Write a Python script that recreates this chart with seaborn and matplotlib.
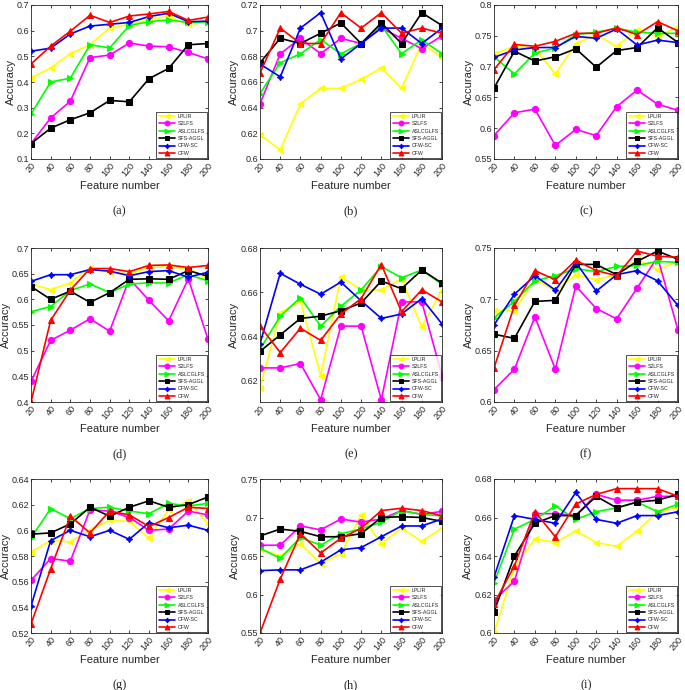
import numpy as np
import pandas as pd
import matplotlib
matplotlib.use("Agg")
import matplotlib.pyplot as plt
import seaborn as sns

# %%
# Data
feature_number = [20, 40, 60, 80, 100, 120, 140, 160, 180, 200]
methods = ["LPLIR", "S2LFS", "ASLCGLFS", "SFS-AGGL", "CFW-SC", "CFW"]
colors = ["#ffff00", "#ff00ff", "#00ff00", "#000000", "#0000ff", "#ff0000"]
markers = ["<", "o", ">", "s", (4, 1, 0), "^"]
panel_labels = ["(a)", "(b)", "(c)", "(d)", "(e)", "(f)", "(g)", "(h)", "(i)"]

acc_a = [
    [0.415, 0.455, 0.51, 0.545, 0.61, 0.625, 0.645, 0.655, 0.625, 0.632],
    [0.16, 0.26, 0.325, 0.495, 0.505, 0.552, 0.54, 0.537, 0.515, 0.49],
    [0.275, 0.40, 0.415, 0.545, 0.533, 0.62, 0.635, 0.642, 0.632, 0.635],
    [0.16, 0.22, 0.253, 0.28, 0.328, 0.323, 0.413, 0.453, 0.545, 0.55],
    [0.52, 0.532, 0.587, 0.618, 0.625, 0.632, 0.655, 0.668, 0.635, 0.637],
    [0.47, 0.54, 0.598, 0.66, 0.632, 0.657, 0.665, 0.675, 0.64, 0.653],
]
acc_b = [
    [0.619, 0.607, 0.643, 0.655, 0.655, 0.662, 0.671, 0.655, 0.69, 0.679],
    [0.643, 0.682, 0.694, 0.682, 0.694, 0.69, 0.702, 0.694, 0.686, 0.696],
    [0.651, 0.675, 0.682, 0.693, 0.682, 0.69, 0.704, 0.682, 0.693, 0.682],
    [0.675, 0.694, 0.69, 0.698, 0.706, 0.69, 0.706, 0.69, 0.714, 0.704],
    [0.674, 0.664, 0.702, 0.714, 0.678, 0.69, 0.702, 0.702, 0.69, 0.702],
    [0.667, 0.702, 0.69, 0.69, 0.714, 0.702, 0.714, 0.698, 0.702, 0.698],
]
acc_c = [
    [0.72, 0.733, 0.73, 0.688, 0.737, 0.752, 0.733, 0.76, 0.748, 0.765],
    [0.588, 0.625, 0.631, 0.572, 0.598, 0.588, 0.635, 0.662, 0.639, 0.629],
    [0.716, 0.688, 0.722, 0.73, 0.752, 0.756, 0.762, 0.756, 0.754, 0.754],
    [0.665, 0.725, 0.709, 0.716, 0.729, 0.699, 0.726, 0.731, 0.763, 0.739],
    [0.715, 0.727, 0.731, 0.731, 0.749, 0.746, 0.761, 0.735, 0.743, 0.739],
    [0.695, 0.736, 0.733, 0.741, 0.754, 0.754, 0.763, 0.752, 0.773, 0.758],
]
acc_d = [
    [0.63, 0.619, 0.632, 0.662, 0.652, 0.65, 0.662, 0.663, 0.66, 0.64],
    [0.44, 0.52, 0.54, 0.562, 0.538, 0.64, 0.598, 0.558, 0.64, 0.522],
    [0.576, 0.586, 0.617, 0.63, 0.613, 0.63, 0.632, 0.632, 0.648, 0.636],
    [0.625, 0.6, 0.616, 0.594, 0.613, 0.639, 0.64, 0.639, 0.656, 0.645],
    [0.635, 0.648, 0.648, 0.658, 0.655, 0.646, 0.654, 0.656, 0.643, 0.653],
    [0.40, 0.559, 0.618, 0.66, 0.66, 0.654, 0.666, 0.667, 0.662, 0.666],
]
acc_e = [
    [0.6165, 0.6505, 0.656, 0.622, 0.667, 0.661, 0.661, 0.666, 0.644, 0.661],
    [0.6255, 0.6255, 0.6275, 0.611, 0.6445, 0.6445, 0.611, 0.6555, 0.6555, 0.622],
    [0.634, 0.649, 0.6575, 0.6445, 0.6535, 0.661, 0.6715, 0.6665, 0.67, 0.6635],
    [0.633, 0.6405, 0.648, 0.649, 0.6515, 0.655, 0.665, 0.6615, 0.67, 0.664],
    [0.6365, 0.6685, 0.6635, 0.659, 0.6645, 0.656, 0.648, 0.65, 0.657, 0.6455],
    [0.6445, 0.6325, 0.6435, 0.638, 0.650, 0.657, 0.6725, 0.651, 0.661, 0.6555],
]
acc_f = [
    [0.689, 0.689, 0.72, 0.708, 0.724, 0.719, 0.724, 0.739, 0.729, 0.737],
    [0.612, 0.632, 0.683, 0.632, 0.713, 0.691, 0.681, 0.711, 0.741, 0.67],
    [0.682, 0.698, 0.718, 0.723, 0.73, 0.727, 0.732, 0.733, 0.737, 0.736],
    [0.666, 0.662, 0.698, 0.699, 0.734, 0.734, 0.724, 0.737, 0.747, 0.739],
    [0.675, 0.705, 0.723, 0.709, 0.736, 0.708, 0.724, 0.728, 0.718, 0.694],
    [0.633, 0.694, 0.728, 0.719, 0.738, 0.728, 0.723, 0.747, 0.742, 0.741],
]
acc_g = [
    [0.583, 0.592, 0.591, 0.6, 0.608, 0.607, 0.594, 0.616, 0.623, 0.605],
    [0.561, 0.578, 0.576, 0.616, 0.615, 0.61, 0.6, 0.601, 0.615, 0.612],
    [0.594, 0.617, 0.609, 0.617, 0.618, 0.615, 0.613, 0.621, 0.619, 0.621],
    [0.597, 0.598, 0.605, 0.618, 0.611, 0.618, 0.623, 0.618, 0.62, 0.626],
    [0.541, 0.592, 0.6, 0.595, 0.6, 0.593, 0.606, 0.602, 0.604, 0.6],
    [0.527, 0.57, 0.611, 0.598, 0.615, 0.612, 0.603, 0.61, 0.618, 0.617],
]
acc_h = [
    [0.659, 0.65, 0.666, 0.64, 0.653, 0.703, 0.666, 0.686, 0.669, 0.686],
    [0.664, 0.664, 0.689, 0.684, 0.698, 0.694, 0.698, 0.709, 0.704, 0.708],
    [0.66, 0.647, 0.674, 0.664, 0.679, 0.685, 0.694, 0.709, 0.704, 0.702],
    [0.676, 0.685, 0.682, 0.675, 0.675, 0.679, 0.7, 0.701, 0.7, 0.695],
    [0.631, 0.632, 0.632, 0.642, 0.658, 0.661, 0.675, 0.689, 0.689, 0.698],
    [0.55, 0.62, 0.679, 0.654, 0.673, 0.686, 0.709, 0.712, 0.709, 0.702],
]
acc_i = [
    [0.6, 0.634, 0.649, 0.647, 0.653, 0.647, 0.645, 0.653, 0.663, 0.665],
    [0.617, 0.627, 0.662, 0.662, 0.661, 0.672, 0.669, 0.669, 0.671, 0.671],
    [0.626, 0.654, 0.659, 0.666, 0.659, 0.663, 0.665, 0.668, 0.663, 0.667],
    [0.611, 0.64, 0.657, 0.661, 0.661, 0.671, 0.665, 0.668, 0.669, 0.672],
    [0.629, 0.661, 0.659, 0.657, 0.673, 0.659, 0.657, 0.661, 0.661, 0.663],
    [0.615, 0.635, 0.663, 0.65, 0.667, 0.672, 0.675, 0.675, 0.675, 0.671],
]

panel_data = [acc_a, acc_b, acc_c, acc_d, acc_e, acc_f, acc_g, acc_h, acc_i]
y_limits = [(0.1, 0.7), (0.6, 0.72), (0.55, 0.8),
            (0.4, 0.7), (0.61, 0.68), (0.6, 0.75),
            (0.52, 0.64), (0.55, 0.75), (0.6, 0.68)]
y_steps = [0.1, 0.02, 0.05, 0.05, 0.02, 0.05, 0.02, 0.05, 0.02]

# %%
sns.set_style("ticks")
plt.rcParams["font.family"] = ["Liberation Sans", "DejaVu Sans"]

fig = plt.figure(figsize=(6.85, 6.9), dpi=100)
W, H = 685, 690
col_lr = [(31, 208), (260, 442), (494, 678)]
row_tb = [(5, 159), (248, 402), (479, 633)]

for k, acc in enumerate(panel_data):
    r, c = divmod(k, 3)
    l, rt = col_lr[c]
    t, b = row_tb[r]
    ax = fig.add_axes([l / W, 1 - b / H, (rt - l) / W, (b - t) / H])

    df = pd.DataFrame({"Feature number": np.tile(feature_number, len(methods)),
                       "Accuracy": np.concatenate(acc),
                       "Method": np.repeat(methods, len(feature_number))})
    for m, col, mk in zip(methods, colors, markers):
        sub = df[df["Method"] == m]
        sns.lineplot(data=sub, x="Feature number", y="Accuracy", ax=ax,
                     color=col, marker=mk, markersize=4.5, markeredgecolor=col,
                     linewidth=1.2, label=m)

    lo, hi = y_limits[k]
    ax.set_xlim(20, 200)
    ax.set_ylim(lo, hi)
    step = y_steps[k]
    first = np.ceil(round(lo / step, 6)) * step
    ax.set_yticks(np.arange(first, hi + step / 2, step))
    ax.yaxis.set_major_formatter(matplotlib.ticker.FormatStrFormatter("%g"))
    ax.set_xticks(feature_number)
    ax.tick_params(direction="in", top=True, right=True, labelsize=6.5,
                   length=2.5, width=0.6, pad=1.5)
    plt.setp(ax.get_xticklabels(), rotation=50, ha="right", rotation_mode="anchor")
    for sp in ax.spines.values():
        sp.set_linewidth(0.6)
    ax.set_xlabel("Feature number", fontsize=8, labelpad=2)
    ax.set_ylabel("Accuracy", fontsize=8, labelpad=0.5)

    leg = ax.legend(loc="lower right", fontsize=3.8, frameon=True, fancybox=False,
                    edgecolor="black", handlelength=3.2, borderpad=0.4,
                    labelspacing=0.45, handletextpad=0.4, borderaxespad=0.2)
    leg.get_frame().set_linewidth(0.6)
    for h in leg.legend_handles:
        h.set_markersize(3.5)

    fig.text((l + rt) / 2 / W, 1 - (b + 52) / H, panel_labels[k],
             ha="center", va="center", fontsize=9, family="Liberation Serif")

fig.savefig("out.png", dpi=100)
